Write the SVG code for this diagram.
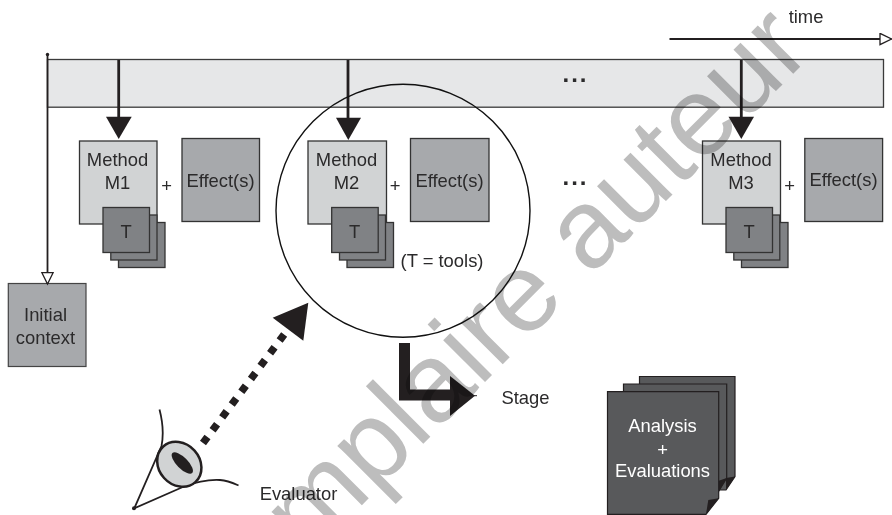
<svg xmlns="http://www.w3.org/2000/svg" width="892" height="515" viewBox="0 0 892 515">
<defs>
<marker id="hollow" markerUnits="userSpaceOnUse" markerWidth="14" markerHeight="14" refX="12.500" refY="6.500" orient="auto"><path d="M1 .8L12.500 6.500L1 12.200Z" fill="#fff" stroke="#231f20" stroke-width="1.300"/></marker>
</defs>
<style>
text{font-family:"Liberation Sans",Arial,sans-serif;font-size:18.400px;fill:#2b2a2b;text-anchor:middle}
.ln{fill:none;stroke:#231f20;stroke-width:1.800}
.hv{fill:none;stroke:#231f20;stroke-width:2.800}
.hd{fill:#231f20;stroke:none}
.m{fill:#d1d3d4;stroke:#333;stroke-width:1.300}
.e{fill:#a7a9ac;stroke:#333;stroke-width:1.300}
.t3{fill:#808285;stroke:#333;stroke-width:1.300}
.d{fill:#58595b;stroke:#231f20;stroke-width:1.200}
.w{fill:#fff}
.dots{font-size:24px;font-weight:bold;letter-spacing:2px}
</style>
<rect id="bar" x="47.500" y="59.500" width="836" height="47.700" fill="#e6e7e8" stroke="#3a3a3a" stroke-width="1.300"/>
<g id="method-m1"><rect class="m" x="79.500" y="141" width="77.500" height="83"/><text x="117.500" y="166">Method</text><text x="117.500" y="189">M1</text></g>
<g id="tools-1"><rect class="t3" x="118.500" y="222.500" width="46.500" height="45"/><rect class="t3" x="110.800" y="215" width="46.200" height="45"/><rect class="t3" x="103" y="207.500" width="46.500" height="45"/><text x="126" y="238">T</text></g>
<text id="plus-1" x="166.500" y="192">+</text>
<g id="effect-1"><rect class="e" x="182" y="138.500" width="77.500" height="83"/><text x="220.500" y="186.500">Effect(s)</text></g>
<g id="method-m2"><rect class="m" x="308" y="141" width="78.500" height="83"/><text x="346.500" y="166">Method</text><text x="346.500" y="189">M2</text></g>
<g id="tools-2"><rect class="t3" x="347" y="222.500" width="46.500" height="45"/><rect class="t3" x="339.500" y="215" width="46" height="45"/><rect class="t3" x="331.700" y="207.500" width="46.500" height="45"/><text x="354.500" y="238">T</text></g>
<text id="plus-2" x="395" y="192">+</text>
<g id="effect-2"><rect class="e" x="410.500" y="138.500" width="78.500" height="83"/><text x="449.500" y="186.500">Effect(s)</text></g>
<g id="method-m3"><rect class="m" x="702.500" y="141" width="78" height="83"/><text x="741" y="166">Method</text><text x="741" y="189">M3</text></g>
<g id="tools-3"><rect class="t3" x="741.500" y="222.500" width="46.500" height="45"/><rect class="t3" x="733.800" y="215" width="46" height="45"/><rect class="t3" x="726" y="207.500" width="46.500" height="45"/><text x="749" y="238">T</text></g>
<text id="plus-3" x="789.500" y="192">+</text>
<g id="effect-3"><rect class="e" x="804.800" y="138.500" width="77.800" height="83"/><text x="843.500" y="186">Effect(s)</text></g>
<g id="initial-context"><rect x="8.300" y="283.500" width="77.700" height="83" fill="#a7a9ac" stroke="#444" stroke-width="1.200"/><text x="45.500" y="321">Initial</text><text x="45.500" y="343.500">context</text></g>
<g id="analysis"><path class="d" d="M639.500 376.500H735V476.500L726 490H639.500Z"/><path d="M735 476.500L726 490V478Z" fill="#231f20"/><path class="d" d="M623.500 384H726.700V478L718 492.500H623.500Z"/><path d="M726.700 478L718 492.500V481Z" fill="#231f20"/><path class="d" d="M607.500 391.700H718.700V498.300L706 514.300H607.500Z"/><path d="M706 514.300L708.300 500L718.700 498.300Z" fill="#231f20"/><text style="fill:#fff" x="662.500" y="431.500">Analysis</text><text style="fill:#fff" x="662.500" y="456">+</text><text style="fill:#fff" x="662.500" y="476.500">Evaluations</text></g>
<g id="evaluator"><path d="M159.500 409.500C163 423 163.500 436 161.500 446L134.300 508.300L184 486.500C197 481.500 210 479.500 220 480C228 480.500 233 483 238.500 485.500" fill="none" stroke="#231f20" stroke-width="1.800"/><ellipse cx="179.300" cy="464.300" rx="20.500" ry="24" transform="rotate(-42 179.300 464.300)" fill="#d1d3d4" stroke="#231f20" stroke-width="2.500"/><ellipse cx="182.300" cy="463" rx="5.500" ry="14" transform="rotate(-45 182.300 463)" fill="#231f20"/><circle cx="134" cy="508.300" r="2" fill="#231f20"/><text x="298.500" y="500">Evaluator</text></g>
<g id="labels"><text x="806" y="22.700">time</text><text x="525.500" y="403.500">Stage</text><text x="442" y="267">(T = tools)</text>
<text class="dots" x="575.500" y="82">...</text><text class="dots" x="575.500" y="185">...</text></g>
<g id="connectors">
<path class="ln" d="M47.500 54V284" marker-end="url(#hollow)"/>
<path class="ln" d="M669.500 39H891.500" marker-end="url(#hollow)"/>
<circle cx="47.500" cy="54.500" r="1.700" fill="#231f20"/>
<path class="hv" d="M118.700 60V120"/><path class="hd" d="M106 116.700H131.700L118.700 139Z"/>
<path class="hv" d="M348 60V120"/><path class="hd" d="M336 117.700H361L348.300 140Z"/>
<path class="hv" d="M741.300 60V120"/><path class="hd" d="M728.500 116.700H754L741.300 139Z"/>
<ellipse cx="403" cy="210.800" rx="127" ry="126.500" fill="none" stroke="#111" stroke-width="1.400"/>
<path d="M203 443L286 332" fill="none" stroke="#231f20" stroke-width="7.500" stroke-dasharray="7.500 8.500"/>
<path class="hd" d="M308.300 302.700L272.700 317.700L303.300 340.700Z"/>
<path d="M404.500 343V395H452" fill="none" stroke="#231f20" stroke-width="11"/><path class="hd" d="M450 376L475 395.700L450 416Z"/><path d="M474 395.700H477" stroke="#231f20"/>
</g>
<text id="watermark" transform="translate(308 559) rotate(-45)" style="font-size:112px;fill:#bdbdbd;text-anchor:start;mix-blend-mode:multiply">mplaire auteur</text>
</svg>
